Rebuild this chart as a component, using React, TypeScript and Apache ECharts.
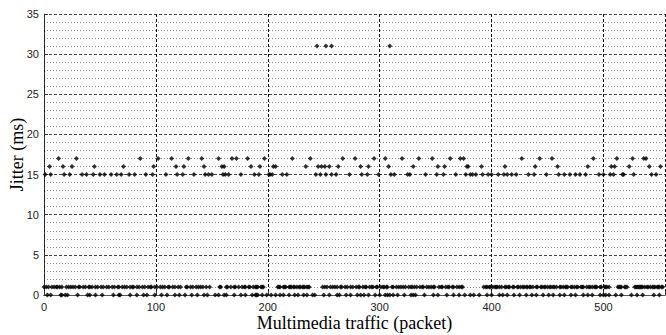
import React, { useEffect, useRef } from "react";
import * as echarts from "echarts";

// Packet indices (x) at each observed jitter level (ms)
const jitter0: number[] = [3, 6, 15, 16, 19, 21, 30, 39, 41, 46, 52, 62, 67, 68, 77, 83, 89, 92, 99, 105, 110, 117, 121, 126, 132, 137, 143, 146, 153, 156, 161, 163, 170, 176, 180, 186, 189, 190, 191, 195, 199, 203, 207, 211, 214, 219, 224, 227, 232, 235, 240, 242, 250, 255, 262, 264, 270, 274, 280, 283, 286, 290, 296, 300, 305, 307, 309, 312, 316, 322, 328, 330, 332, 340, 348, 352, 360, 366, 371, 376, 381, 384, 389, 396, 400, 407, 410, 414, 420, 425, 431, 436, 440, 446, 451, 455, 461, 465, 471, 475, 482, 486, 490, 497, 500, 502, 505, 511, 516, 525, 530, 535, 545, 550];
const jitter1: number[] = [0, 2, 4, 7, 9, 11, 12, 14, 16, 20, 22, 24, 26, 28, 31, 32, 35, 37, 40, 41, 43, 46, 48, 51, 53, 56, 58, 61, 63, 66, 67, 70, 72, 74, 77, 79, 80, 83, 85, 88, 90, 93, 95, 96, 99, 101, 104, 106, 108, 111, 112, 115, 117, 120, 122, 127, 128, 131, 133, 136, 138, 140, 142, 145, 148, 157, 158, 163, 164, 167, 170, 171, 174, 177, 179, 180, 183, 184, 187, 189, 190, 191, 194, 195, 196, 209, 210, 211, 214, 215, 216, 219, 220, 221, 223, 224, 226, 228, 229, 231, 232, 233, 235, 236, 237, 249, 251, 253, 256, 258, 260, 262, 265, 266, 269, 271, 274, 276, 279, 281, 282, 285, 287, 288, 291, 293, 294, 297, 298, 301, 303, 304, 306, 307, 311, 312, 315, 317, 319, 321, 323, 326, 328, 329, 331, 333, 336, 338, 339, 342, 344, 346, 348, 349, 353, 355, 356, 359, 361, 362, 365, 366, 369, 371, 373, 374, 393, 395, 396, 398, 399, 401, 403, 404, 405, 407, 409, 412, 413, 415, 416, 419, 420, 423, 424, 426, 428, 429, 431, 432, 434, 435, 437, 440, 441, 444, 445, 447, 448, 450, 452, 453, 455, 456, 458, 461, 462, 464, 466, 467, 468, 471, 472, 474, 476, 477, 480, 481, 482, 485, 487, 488, 490, 492, 493, 494, 497, 498, 501, 502, 503, 505, 513, 514, 515, 516, 519, 520, 521, 528, 529, 530, 531, 532, 533, 534, 535, 537, 539, 540, 542, 544, 545, 546, 548, 549, 550, 552, 553];
const jitter15: number[] = [1, 6, 18, 23, 34, 38, 44, 50, 54, 60, 65, 69, 76, 81, 91, 97, 109, 119, 124, 134, 144, 147, 150, 160, 162, 165, 176, 188, 192, 201, 202, 204, 213, 217, 243, 247, 252, 257, 261, 273, 284, 289, 299, 310, 313, 325, 327, 341, 351, 357, 368, 377, 381, 383, 386, 392, 397, 400, 406, 411, 414, 418, 422, 433, 438, 449, 460, 465, 470, 475, 479, 484, 496, 500, 506, 509, 517, 518, 527, 543, 547];
const jitter16: number[] = [5, 17, 25, 45, 71, 98, 118, 125, 143, 159, 161, 185, 193, 205, 207, 234, 245, 248, 251, 255, 263, 283, 290, 308, 330, 352, 358, 378, 379, 391, 412, 439, 459, 486, 507, 510, 523, 541, 551];
const jitter17: number[] = [13, 29, 86, 102, 114, 129, 141, 156, 168, 172, 182, 197, 222, 238, 267, 278, 295, 305, 320, 335, 347, 363, 372, 375, 427, 443, 454, 491, 512, 526, 536, 538];
const jitter31: number[] = [244, 252, 257, 309];

const yTicks = [0, 5, 10, 15, 20, 25, 30, 35];
const xTicks = [0, 100, 200, 300, 400, 500];

export default function App() {
  const ref = useRef<HTMLDivElement>(null);
  useEffect(() => {
    if (!ref.current) return;
    const chart = echarts.init(ref.current, undefined, { renderer: "svg" });
    const levels: [number, number[]][] = [
      [0, jitter0], [1, jitter1], [15, jitter15], [16, jitter16], [17, jitter17], [31, jitter31],
    ];
    const points: number[][] = [];
    levels.forEach(([y, xs]) => xs.forEach((x) => points.push([x, y])));
    chart.setOption({
      animation: false,
      grid: { left: 44, right: 1, top: 14, bottom: 40, outerBoundsMode: "none", containLabel: false },
      xAxis: [
        {
          type: "value",
          min: 0,
          max: 555,
          interval: 100,
          name: "Multimedia traffic (packet)",
          nameLocation: "middle",
          nameGap: 19,
          nameMoveOverlap: false,
          nameTextStyle: { fontFamily: "Liberation Serif", fontSize: 18, color: "#000" },
          axisLine: { show: true, onZero: false, lineStyle: { color: "#333", type: [3, 2], width: 1 } },
          axisTick: { show: true, inside: true, length: 4, lineStyle: { color: "#333" } },
          axisLabel: {
            fontFamily: "Liberation Sans", fontSize: 11, color: "#222", margin: 6,
            formatter: (v: number) => (xTicks.includes(v) ? String(v) : ""),
          },
          splitLine: { show: true, lineStyle: { color: "#111", type: [3, 2], width: 1 } },
        },
        {
          type: "value",
          position: "top",
          min: 0,
          max: 555,
          axisLine: { show: true, lineStyle: { color: "#555", width: 1 } },
          axisTick: { show: false },
          axisLabel: { show: false },
          splitLine: { show: false },
        },
      ],
      yAxis: {
        type: "value",
        min: 0,
        max: 35,
        interval: 5,
        name: "Jitter (ms)",
        nameLocation: "middle",
        nameGap: 18,
        nameMoveOverlap: false,
        nameTextStyle: { fontFamily: "Liberation Serif", fontSize: 18, color: "#000" },
        axisLine: { show: true, lineStyle: { color: "#333", type: [3, 2], width: 1 } },
        axisTick: { show: true, inside: true, length: 4, lineStyle: { color: "#333" } },
        axisLabel: {
          fontFamily: "Liberation Sans", fontSize: 11, color: "#222", margin: 5,
          formatter: (v: number) => (yTicks.includes(v) ? String(v) : ""),
        },
        splitLine: { show: true, lineStyle: { color: "#444", type: [3, 2], width: 1 } },
        minorTick: { show: false, splitNumber: 5 },
        minorSplitLine: { show: true, lineStyle: { color: "#888", type: [1, 2], width: 1 } },
      },
      series: [
        {
          type: "scatter",
          xAxisIndex: 0,
          data: points,
          symbol: "diamond",
          symbolSize: 5,
          itemStyle: { color: "#000" },
          clip: false,
        },
      ],
    });
    return () => chart.dispose();
  }, []);
  return <div ref={ref} style={{ width: 666, height: 335, position: "absolute", left: 0, top: 0 }} />;
}
